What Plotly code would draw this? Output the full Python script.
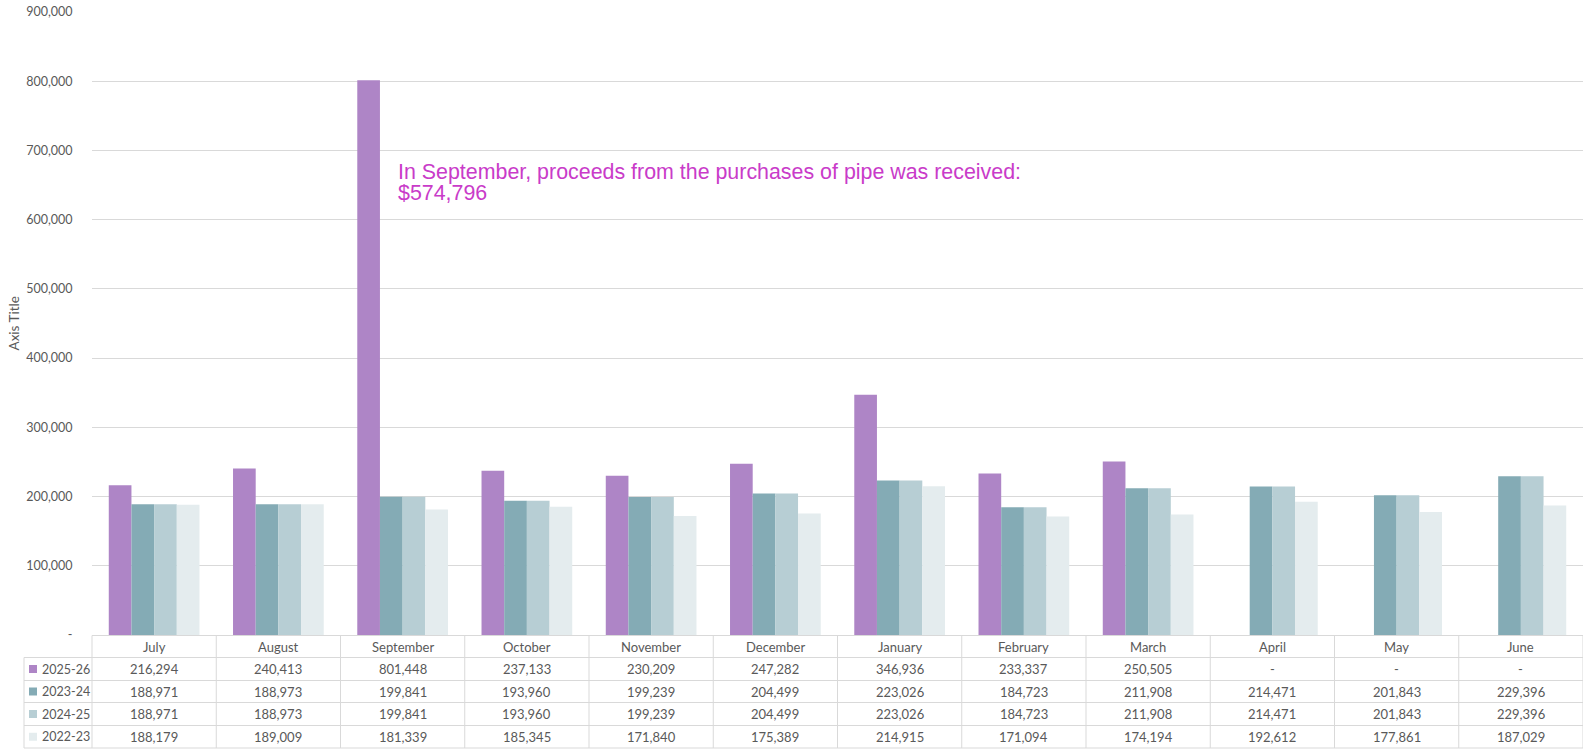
import plotly.graph_objects as go

months = ["July", "August", "September", "October", "November", "December",
          "January", "February", "March", "April", "May", "June"]
series_names = ["2025-26", "2023-24", "2024-25", "2022-23"]
s2025_26 = [216294, 240413, 801448, 237133, 230209, 247282, 346936, 233337, 250505, None, None, None]
s2023_24 = [188971, 188973, 199841, 193960, 199239, 204499, 223026, 184723, 211908, 214471, 201843, 229396]
s2024_25 = [188971, 188973, 199841, 193960, 199239, 204499, 223026, 184723, 211908, 214471, 201843, 229396]
s2022_23 = [188179, 189009, 181339, 185345, 171840, 175389, 214915, 171094, 174194, 192612, 177861, 187029]
series_values = [s2025_26, s2023_24, s2024_25, s2022_23]
colors = ["#AE85C6", "#84ABB5", "#B7CED4", "#E4ECEE"]
y_tickvals = [0, 100000, 200000, 300000, 400000, 500000, 600000, 700000, 800000, 900000]
y_ticktext = ["-", "100,000", "200,000", "300,000", "400,000", "500,000", "600,000", "700,000", "800,000", "900,000"]
note_lines = ["In September, proceeds from the purchases of pipe was received:", "$574,796"]

W, H = 1583, 749
ML, MR, MT, MB = 92, 0, 12, (749 - 635)
plot_h = H - MT - MB
plot_w = W - ML - MR
TXT = "#595959"
GRID = "#D9D9D9"
FONT = "Lato"

def py(px):
    return (635 - px) / plot_h

def pxx(px):
    return (px - 92) / plot_w

fig = go.Figure()
for name, vals, col in zip(series_names, series_values, colors):
    fig.add_trace(go.Bar(x=months, y=vals, name=name, marker=dict(color=col, line=dict(width=0)),
                         showlegend=False))

shapes = []
annotations = []
n = len(months)
rows_px = [635.5, 657.5, 680.5, 702.5, 725.5, 748.0]
leg_left = 24
line = dict(color=GRID, width=1)
shapes.append(dict(type="line", xref="paper", yref="paper", x0=0, x1=1, y0=py(rows_px[0]), y1=py(rows_px[0]), line=line))
for r in rows_px[1:]:
    shapes.append(dict(type="line", xref="paper", yref="paper", x0=pxx(leg_left), x1=1, y0=py(r), y1=py(r), line=line))
for i in range(n + 1):
    shapes.append(dict(type="line", xref="paper", yref="paper", x0=i / n, x1=i / n,
                       y0=py(rows_px[0]), y1=py(rows_px[-1]), line=line))
shapes.append(dict(type="line", xref="paper", yref="paper", x0=pxx(leg_left), x1=pxx(leg_left),
                   y0=py(rows_px[1]), y1=py(rows_px[-1]), line=line))

hy = py((rows_px[0] + rows_px[1]) / 2)
for i, m in enumerate(months):
    annotations.append(dict(text=m, xref="paper", yref="paper", x=(i + 0.5) / n, y=hy,
                            showarrow=False, xanchor="center", yanchor="middle",
                            font=dict(family=FONT, size=13, color=TXT)))
for k, (name, vals, col) in enumerate(zip(series_names, series_values, colors)):
    yc = py((rows_px[k + 1] + rows_px[k + 2]) / 2)
    shapes.append(dict(type="rect", xref="paper", yref="paper", x0=pxx(29), x1=pxx(37),
                       y0=yc - 4 / plot_h, y1=yc + 4 / plot_h, fillcolor=col, line=dict(width=0)))
    annotations.append(dict(text=name, xref="paper", yref="paper", x=pxx(39.5), y=yc,
                            showarrow=False, xanchor="left", yanchor="middle",
                            font=dict(family=FONT, size=12.5, color=TXT)))
    for i, v in enumerate(vals):
        t = "-" if v is None else f"{v:,}"
        annotations.append(dict(text=t, xref="paper", yref="paper", x=(i + 0.5) / n, y=yc,
                                showarrow=False, xanchor="center", yanchor="middle",
                                font=dict(family=FONT, size=13, color=TXT)))

for j, txt in enumerate(note_lines):
    annotations.append(dict(text=txt, xref="paper", yref="paper", x=pxx(396), y=py(172 + 21 * j),
                            showarrow=False, xanchor="left", yanchor="middle", align="left",
                            font=dict(family="Liberation Sans", size=21.4, color="#C93BC9")))
annotations.append(dict(text="Axis Title", xref="paper", yref="paper", x=pxx(13), y=0.5,
                        showarrow=False, textangle=-90, xanchor="center", yanchor="middle",
                        font=dict(family=FONT, size=13.5, color=TXT)))

fig.update_layout(
    width=W, height=H,
    margin=dict(l=ML, r=MR, t=MT, b=MB, autoexpand=False),
    paper_bgcolor="white", plot_bgcolor="white",
    barmode="group", bargap=0.27, bargroupgap=0,
    xaxis=dict(showticklabels=False, showgrid=False, zeroline=False, showline=False, ticks="",
               automargin=False),
    yaxis=dict(range=[0, 900000], tickvals=y_tickvals, ticktext=y_ticktext, automargin=False,
               showgrid=True, gridcolor=GRID, gridwidth=1, zeroline=False, showline=False,
               ticks="outside", ticklen=16, tickcolor="rgba(0,0,0,0)", ticklabeloverflow="allow",
               tickfont=dict(family=FONT, size=12.5, color=TXT)),
    shapes=shapes, annotations=annotations,
)
fig.write_html("out.html", config={"displayModeBar": False},
               post_script="document.body.style.margin='0';document.body.style.overflow='hidden';")
